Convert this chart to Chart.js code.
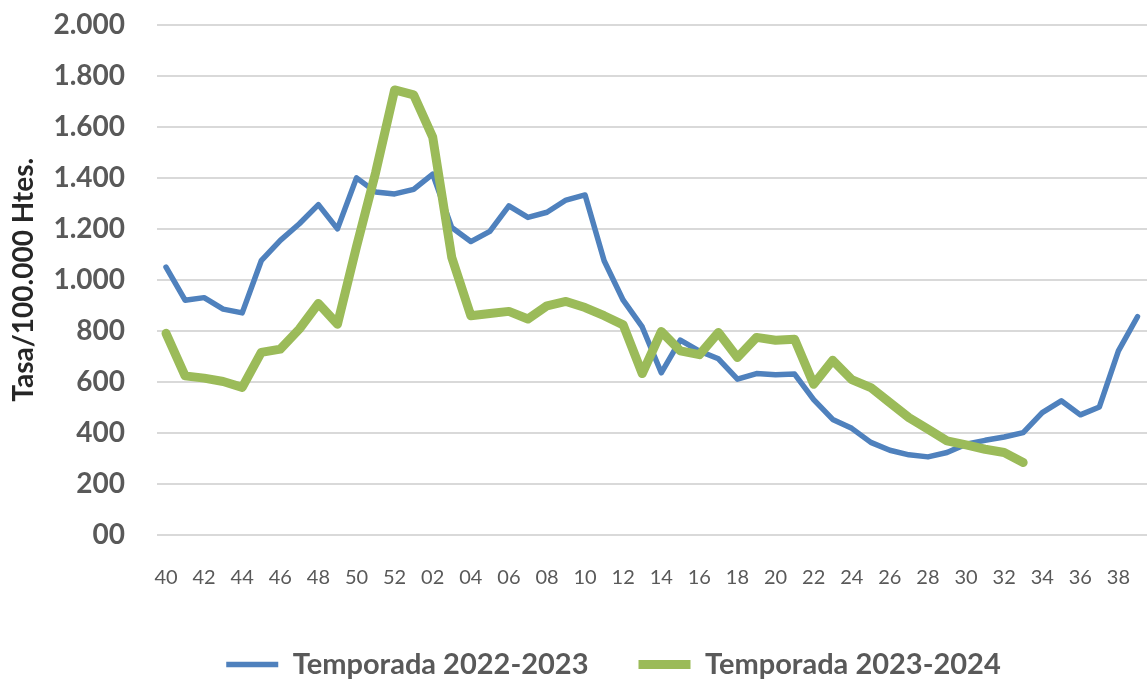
<!DOCTYPE html>
<html>
<head>
<meta charset="utf-8">
<script src="https://cdn.jsdelivr.net/npm/chart.js@4"></script>
<style>
  html, body { margin: 0; padding: 0; background: #fff; }
  #wrap { width: 1147px; height: 686px; position: relative; }
</style>
</head>
<body>
<div id="wrap"><canvas id="chart"></canvas></div>
<script>
// semanas epidemiologicas, de la 40 a la 39 del año siguiente
const semanas = ['40', '41', '42', '43', '44', '45', '46', '47', '48', '49', '50', '51', '52',
  '01', '02', '03', '04', '05', '06', '07', '08', '09', '10', '11', '12', '13', '14', '15', '16',
  '17', '18', '19', '20', '21', '22', '23', '24', '25', '26', '27', '28', '29', '30', '31', '32',
  '33', '34', '35', '36', '37', '38', '39'];

const temporada2223 = [1050, 920, 930, 885, 870, 1075, 1155, 1220, 1295, 1200, 1400, 1345, 1337,
  1355, 1415, 1205, 1150, 1190, 1290, 1245, 1265, 1313, 1333, 1075, 920, 815, 635, 763, 720,
  690, 610, 632, 627, 630, 530, 452, 417, 362, 331, 313, 305, 322, 355, 370, 383, 400, 479,
  525, 470, 501, 721, 855];

const temporada2324 = [790, 623, 614, 601, 578, 715, 728, 807, 907, 826, 1130, 1420, 1745,
  1726, 1560, 1088, 859, 868, 876, 846, 898, 915, 891, 859, 823, 632, 797, 721, 706,
  793, 695, 774, 763, 767, 590, 684, 608, 577, 518, 459, 414, 368, 352, 335, 322, 283];

const nombres = ['Temporada 2022-2023', 'Temporada 2023-2024'];
const colores = ['#4F81BD', '#9BBB59'];

const gris = '#595959';

// miles con punto, el cero sale como "00" igual que en el original
const formatoTasa = v => v === 0 ? '00' : v.toLocaleString('de-DE');

// centra la leyenda un poco a la derecha, como en la figura
const moverLeyenda = {
  id: 'moverLeyenda',
  afterLayout(chart) {
    chart.legend.left = 80;
  }
};

new Chart(document.getElementById('chart'), {
  type: 'line',
  data: {
    labels: semanas,
    datasets: [
      {
        label: nombres[0],
        data: temporada2223,
        borderColor: colores[0],
        backgroundColor: colores[0],
        borderWidth: 5.5,
        borderCapStyle: 'round',
        borderJoinStyle: 'round',
        pointRadius: 0,
        pointStyle: 'line',
        tension: 0,
        order: 1
      },
      {
        label: nombres[1],
        data: temporada2324,
        borderColor: colores[1],
        backgroundColor: colores[1],
        borderWidth: 9,
        borderCapStyle: 'round',
        borderJoinStyle: 'round',
        pointRadius: 0,
        pointStyle: 'line',
        tension: 0,
        order: 0
      }
    ]
  },
  options: {
    responsive: true,
    maintainAspectRatio: false,
    animation: false,
    layout: { padding: { top: 25, right: 0, bottom: -3, left: 0 } },
    plugins: {
      tooltip: { enabled: false },
      legend: {
        position: 'bottom',
        labels: {
          usePointStyle: true,
          pointStyleWidth: 52,
          boxHeight: 10,
          padding: 50,
          color: gris,
          font: { family: 'Lato', size: 29, weight: 'bold' },
          sort: (a, b) => a.datasetIndex - b.datasetIndex
        }
      }
    },
    scales: {
      x: {
        offset: true,
        // las marcas son invisibles, solo sirven de separacion
        grid: { drawOnChartArea: false, drawTicks: true, tickLength: 31, tickColor: 'rgba(0,0,0,0)' },
        border: { display: false },
        ticks: {
          autoSkip: false,
          maxRotation: 0,
          padding: 0,
          color: gris,
          font: { family: 'Lato', size: 20 },
          callback: (v, i) => i % 2 === 0 ? semanas[i] : ''
        },
        afterFit: s => { s.height = 65.4; }
      },
      y: {
        min: 0,
        max: 2000,
        grid: { color: '#d9d9d9', lineWidth: 2, drawTicks: true, tickLength: 31, tickColor: 'rgba(0,0,0,0)' },
        border: { display: false },
        ticks: {
          stepSize: 200,
          padding: 0.5,
          color: gris,
          font: { family: 'Lato', size: 28, weight: 'bold' },
          callback: v => formatoTasa(v)
        },
        title: {
          display: true,
          text: 'Tasa/100.000 Htes.',
          color: '#262626',
          font: { family: 'Lato', size: 28, weight: 'bold' },
          padding: { top: 7, bottom: 0 }
        },
        afterFit: s => { s.width = 156.5; }
      }
    }
  },
  plugins: [moverLeyenda]
});
</script>
</body>
</html>
